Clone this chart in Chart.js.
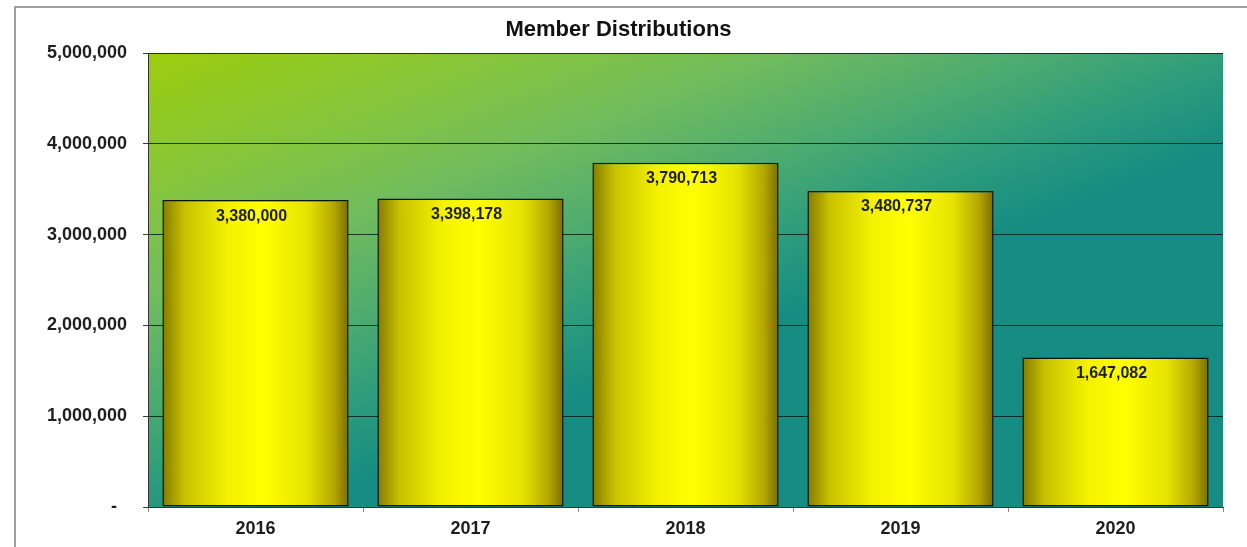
<!DOCTYPE html>
<html>
<head>
<meta charset="utf-8">
<script src="https://cdn.jsdelivr.net/npm/chart.js@4/dist/chart.umd.min.js"></script>
<style>
  html, body { margin: 0; padding: 0; background: #ffffff; }
  #wrap { width: 1247px; height: 547px; position: relative; }
</style>
</head>
<body>
<div id="wrap"><canvas id="myChart"></canvas></div>
<script>
// chart data
const years = ['2016', '2017', '2018', '2019', '2020'];
const distributions = [3380000, 3398178, 3790713, 3480737, 1647082];
const yTicks = [0, 1000000, 2000000, 3000000, 4000000, 5000000];

const FONT = '"Liberation Sans", Arial, sans-serif';
const BAR_PCT = 0.866;

// green -> teal plot background, and the grey frame around the whole chart
const backgroundPlugin = {
	id: 'plotBackground',
	beforeDraw(chart) {
		const ctx = chart.ctx;
		const a = chart.chartArea;
		const w = a.right - a.left;
		const h = a.bottom - a.top;

		ctx.save();
		ctx.strokeStyle = '#a0a0a0';
		ctx.lineWidth = 2;
		ctx.beginPath();
		ctx.moveTo(15, chart.height + 5);
		ctx.lineTo(15, 7);
		ctx.lineTo(chart.width + 5, 7);
		ctx.stroke();

		let g = ctx.createLinearGradient(a.left, a.top, a.left + w * 0.16, a.top + h * 0.98);
		g.addColorStop(0, '#9ccd0c');
		g.addColorStop(0.25, '#88c638');
		g.addColorStop(0.48, '#70bc5e');
		g.addColorStop(0.68, '#4cab70');
		g.addColorStop(0.84, '#2c9c7c');
		g.addColorStop(1, '#168c82');
		ctx.fillStyle = g;
		ctx.fillRect(a.left, a.top, w, h);
		ctx.restore();
	}
};

// value labels just under the top of each bar
const valueLabels = {
	id: 'valueLabels',
	afterDatasetsDraw(chart) {
		const ctx = chart.ctx;
		const meta = chart.getDatasetMeta(0);
		ctx.save();
		ctx.font = 'bold 16px ' + FONT;
		ctx.fillStyle = '#1e1e1e';
		ctx.textAlign = 'center';
		ctx.textBaseline = 'middle';
		meta.data.forEach(function(bar, i) {
			ctx.fillText(distributions[i].toLocaleString('en-US'), bar.x - 4, bar.y + 16);
		});
		ctx.restore();
	}
};

function barFill(context) {
	const chart = context.chart;
	const a = chart.chartArea;
	if (!a || !chart.scales.x) {
		return '#ffff00';
	}
	const xs = chart.scales.x;
	const cx = xs.getPixelForValue(context.dataIndex);
	const bw = (xs.width / years.length) * BAR_PCT;
	const g = chart.ctx.createLinearGradient(cx - bw / 2, 0, cx + bw / 2, 0);
	g.addColorStop(0, '#857a00');
	g.addColorStop(0.12, '#c8c200');
	g.addColorStop(0.35, '#f4f200');
	g.addColorStop(0.55, '#ffff00');
	g.addColorStop(0.78, '#e6e200');
	g.addColorStop(0.92, '#b4a800');
	g.addColorStop(1, '#7a6c00');
	return g;
}

const ctx = document.querySelector('#myChart');

new Chart(ctx, {
	type: 'bar',
	data: {
		labels: years,
		datasets: [{
			label: 'Member Distributions',
			data: distributions,
			backgroundColor: barFill,
			borderColor: '#111111',
			borderWidth: 1.5,
			borderSkipped: false,
			categoryPercentage: 1,
			barPercentage: BAR_PCT
		}]
	},
	options: {
		responsive: true,
		maintainAspectRatio: false,
		animation: false,
		layout: {
			padding: { left: 14, right: 24, top: 0, bottom: 0 }
		},
		plugins: {
			legend: { display: false },
			tooltip: { enabled: false },
			title: {
				display: true,
				text: 'Member Distributions',
				color: '#111111',
				font: { family: FONT, size: 22, weight: 'bold', lineHeight: 1.2 },
				padding: { top: 17, bottom: 9.6 }
			}
		},
		scales: {
			x: {
				grid: {
					drawOnChartArea: false,
					drawTicks: true,
					tickLength: 5,
					color: '#888888'
				},
				border: { display: true, color: '#333333', width: 1 },
				ticks: {
					color: '#1e1e1e',
					padding: 6,
					font: { family: FONT, size: 18, weight: 'bold' }
				},
				afterFit(scale) {
					scale.height = 40;
				}
			},
			y: {
				min: 0,
				max: 5000000,
				afterBuildTicks(scale) {
					scale.ticks = yTicks.map(function(v) { return { value: v }; });
				},
				grid: {
					color: 'rgba(10, 30, 20, 0.85)',
					lineWidth: 1,
					tickLength: 5
				},
				border: { display: true, color: '#333333', width: 1 },
				ticks: {
					color: '#1e1e1e',
					padding: 16,
					font: { family: FONT, size: 18, weight: 'bold' },
					callback: function(value) {
						return value === 0 ? '-  ' : Number(value).toLocaleString('en-US');
					}
				},
				afterFit(scale) {
					scale.width = 134;
				}
			}
		}
	},
	plugins: [backgroundPlugin, valueLabels]
});
</script>
</body>
</html>
